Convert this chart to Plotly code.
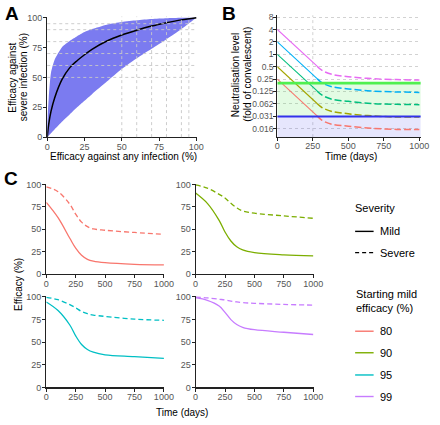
import math
import plotly.graph_objects as go

W, H = 440, 425
def fx(p): return p / W
def fy(p): return 1 - p / H

FONT = "Liberation Sans, Arial, Helvetica, sans-serif"
TICKC = "#555555"

# ---------------- Panel A data ----------------
A_any = [0, 1, 2.5, 5, 10, 15, 20, 25, 30, 40, 50, 60, 70, 80, 90, 100]
A_severe_mid = [0, 11, 21.5, 33, 48.5, 58, 64, 69, 73.5, 80.5, 85.5, 89.5, 93, 95.8, 98.2, 100]
A_severe_upper = [0, 33, 54, 65, 75.5, 80.5, 84.5, 88, 90.5, 94.2, 96.4, 97.9, 99, 99.6, 100, 100]
A_severe_lower = [0, 1.3, 3.2, 6.5, 13, 19, 25, 30.5, 36, 46.5, 57, 66, 74, 82, 90.5, 100]
A_ref_levels = [50, 60, 70, 80, 90, 95]
A_ticks = [0, 25, 50, 75, 100]

# ---------------- Panel B data ----------------
B_solid_days = [0, 280]
B_tail_days = [280, 315, 385, 500, 660, 840, 1000]
B_pink_solid = [4, 0.514]
B_pink_tail = [0.514, 0.406, 0.325, 0.287, 0.257, 0.243, 0.238]
B_blue_solid = [2, 0.257]
B_blue_tail = [0.257, 0.203, 0.163, 0.144, 0.129, 0.122, 0.119]
B_green_solid = [1, 0.129]
B_green_tail = [0.129, 0.102, 0.081, 0.072, 0.064, 0.061, 0.060]
B_olive_solid = [0.5, 0.064]
B_olive_tail = [0.064, 0.051, 0.041, 0.036, 0.032, 0.030, 0.030]
B_red_solid = [0.25, 0.032]
B_red_tail = [0.032, 0.025, 0.020, 0.018, 0.016, 0.015, 0.015]
B_threshold_any = 0.2
B_threshold_severe = 0.031
B_xspan = [0, 1010]
B_floor = 0.005
B_tickvals = [8, 4, 2, 1, 0.5, 0.25, 0.125, 0.0625, 0.03125, 0.015625]
B_ticktext = ["8", "4", "2", "1", "0.5", "0.25", "0.125", "0.062", "0.031", "0.016"]
B_xticks = [0, 250, 500, 750, 1000]
B_ref_day = 250

# ---------------- Panel C data ----------------
C_days = [0, 100, 200, 250, 300, 350, 400, 500, 750, 1000]
C_mild_80 = [80, 63, 40, 29, 21, 16.5, 14.5, 12.8, 11, 10.3]
C_severe_80 = [97.5, 92, 78, 67, 58, 53, 50.5, 49, 46.5, 44.5]
C_mild_90 = [90.5, 79, 60, 47, 37, 30.5, 27, 24, 21.5, 20.3]
C_severe_90 = [99.5, 96, 89, 85, 79, 74, 70.5, 68, 65, 62.3]
C_mild_95 = [94.5, 85, 69, 57, 47.5, 42, 39, 36, 34, 32]
C_severe_95 = [99.5, 97, 91.5, 88, 84, 81.5, 80, 78.5, 75.5, 74.2]
C_mild_99 = [99.2, 96.2, 90, 83, 75, 69.5, 66.5, 63.8, 61, 58.5]
C_severe_99 = [99.9, 99, 97.5, 96.8, 95.5, 94.5, 93.8, 93, 91.8, 91]
C_labels = ["80", "90", "95", "99"]
C_colors = ["#F8766D", "#7CAE00", "#00BFC4", "#C77CFF"]

fig = go.Figure()

# ---- Panel A ----
fig.add_trace(go.Scatter(
    x=A_any + A_any[::-1], y=A_severe_lower + A_severe_upper[::-1],
    fill="toself", fillcolor="rgb(123,123,240)", mode="lines",
    line=dict(width=0, color="rgb(123,123,240)", shape="spline", smoothing=0.6),
    xaxis="x", yaxis="y", hoverinfo="skip", showlegend=False))
fig.add_trace(go.Scatter(
    x=A_any, y=A_severe_mid, mode="lines",
    line=dict(color="black", width=1.5, shape="spline", smoothing=1),
    xaxis="x", yaxis="y", showlegend=False))

# ---- Panel B ----
fig.add_trace(go.Scatter(
    x=[B_xspan[0], B_xspan[1], B_xspan[1], B_xspan[0]],
    y=[B_floor, B_floor, B_threshold_severe, B_threshold_severe],
    fill="toself", fillcolor="rgba(90,90,240,0.15)", mode="lines", line=dict(width=0),
    xaxis="x2", yaxis="y2", hoverinfo="skip", showlegend=False))
fig.add_trace(go.Scatter(
    x=[B_xspan[0], B_xspan[1], B_xspan[1], B_xspan[0]],
    y=[B_threshold_severe, B_threshold_severe, B_threshold_any, B_threshold_any],
    fill="toself", fillcolor="rgba(60,230,60,0.14)", mode="lines", line=dict(width=0),
    xaxis="x2", yaxis="y2", hoverinfo="skip", showlegend=False))

B_series = [
    (B_pink_solid, B_pink_tail, "#E76BF3"),
    (B_blue_solid, B_blue_tail, "#00B0F6"),
    (B_green_solid, B_green_tail, "#00BF7D"),
    (B_olive_solid, B_olive_tail, "#A3A500"),
    (B_red_solid, B_red_tail, "#F8766D"),
]
for solid, tail, col in B_series:
    fig.add_trace(go.Scatter(x=B_solid_days, y=solid, mode="lines",
                             line=dict(color=col, width=1.1),
                             xaxis="x2", yaxis="y2", showlegend=False))
    fig.add_trace(go.Scatter(x=B_tail_days, y=tail, mode="lines",
                             line=dict(color=col, width=1.5, dash="7px,3px", shape="spline"),
                             xaxis="x2", yaxis="y2", showlegend=False))

fig.add_trace(go.Scatter(x=B_xspan, y=[B_threshold_any] * 2, mode="lines",
                         line=dict(color="rgb(80,240,80)", width=2.6),
                         xaxis="x2", yaxis="y2", showlegend=False))
fig.add_trace(go.Scatter(x=B_xspan, y=[B_threshold_severe] * 2, mode="lines",
                         line=dict(color="rgb(50,50,235)", width=2),
                         xaxis="x2", yaxis="y2", showlegend=False))

# ---- Panel C ----
C_mild = [C_mild_80, C_mild_90, C_mild_95, C_mild_99]
C_severe = [C_severe_80, C_severe_90, C_severe_95, C_severe_99]
C_axes = [("x3", "y3"), ("x4", "y4"), ("x5", "y5"), ("x6", "y6")]
for mild, sev, col, (xa, ya) in zip(C_mild, C_severe, C_colors, C_axes):
    fig.add_trace(go.Scatter(x=C_days, y=sev, mode="lines",
                             line=dict(color=col, width=1.3, dash="5px,3px", shape="spline"),
                             xaxis=xa, yaxis=ya, showlegend=False))
    fig.add_trace(go.Scatter(x=C_days, y=mild, mode="lines",
                             line=dict(color=col, width=1.3, shape="spline"),
                             xaxis=xa, yaxis=ya, showlegend=False))

# ---- axes ----
def axstyle(size=9, standoff=0, **kw):
    d = dict(showline=True, linecolor="#222222", linewidth=1.1, ticks="outside",
             ticklen=3, tickwidth=1, tickcolor="#222222", showgrid=False, zeroline=False,
             tickfont=dict(family=FONT, size=size, color=TICKC), fixedrange=True,
             ticklabelstandoff=standoff)
    d.update(kw)
    return d

XS = -2
YS = -1
C_xt = [0, 250, 500, 750, 1000]
C_yt = [0, 25, 50, 75, 100]
layout = dict(
    width=W, height=H, autosize=False,
    margin=dict(l=0, r=0, t=0, b=0, pad=0),
    paper_bgcolor="white", plot_bgcolor="white",
    font=dict(family=FONT, color="black"),
    showlegend=False,
    xaxis=axstyle(standoff=XS, domain=[fx(45.5), fx(199.5)], range=[0, 100.5], anchor="y", tickvals=A_ticks),
    yaxis=axstyle(standoff=YS, domain=[fy(136), fy(12.8)], range=[0, 101], anchor="x", tickvals=A_ticks),
    xaxis2=axstyle(standoff=-3, domain=[fx(282), fx(429.5)], range=[0, 1010], anchor="y2", tickvals=B_xticks),
    yaxis2=axstyle(size=8.5, standoff=-2, domain=[fy(136), fy(11.5)], type="log",
                   range=[-6.68 * math.log10(2), 3.15 * math.log10(2)], anchor="x2",
                   tickvals=B_tickvals, ticktext=B_ticktext,
                   showgrid=True, gridcolor="#d2d2d2", griddash="dot", gridwidth=1),
    xaxis3=axstyle(standoff=XS, domain=[fx(44.5), fx(166)], range=[0, 1005], anchor="y3", tickvals=C_xt),
    yaxis3=axstyle(standoff=YS, domain=[fy(276), fy(183.5)], range=[0, 101], anchor="x3", tickvals=C_yt),
    xaxis4=axstyle(standoff=XS, domain=[fx(198), fx(319.5)], range=[0, 1005], anchor="y4", tickvals=C_xt),
    yaxis4=axstyle(standoff=YS, domain=[fy(276), fy(183.5)], range=[0, 101], anchor="x4", tickvals=C_yt),
    xaxis5=axstyle(standoff=XS, domain=[fx(44.5), fx(166)], range=[0, 1005], anchor="y5", tickvals=C_xt),
    yaxis5=axstyle(standoff=YS, domain=[fy(391.7), fy(298.4)], range=[0, 101], anchor="x5", tickvals=C_yt),
    xaxis6=axstyle(standoff=XS, domain=[fx(198), fx(319.5)], range=[0, 1005], anchor="y6", tickvals=C_xt),
    yaxis6=axstyle(standoff=YS, domain=[fy(391.7), fy(298.4)], range=[0, 101], anchor="x6", tickvals=C_yt),
)
fig.update_layout(**layout)

shapes = []
GRID = dict(color="rgba(200,200,200,0.9)", width=1, dash="dot")
for v in A_ref_levels:
    shapes.append(dict(type="line", xref="x", yref="y domain", x0=v, x1=v, y0=0, y1=1,
                       line=GRID, layer="above"))
    shapes.append(dict(type="line", xref="x domain", yref="y", x0=0, x1=1, y0=v, y1=v,
                       line=GRID, layer="above"))
shapes.append(dict(type="line", xref="x2", yref="y2 domain", x0=B_ref_day, x1=B_ref_day,
                   y0=0, y1=1, line=dict(color="#d2d2d2", width=1, dash="dot"), layer="below"))

# legend (manual)
def lline(y, color, dash="solid"):
    shapes.append(dict(type="line", xref="paper", yref="paper", x0=fx(362), x1=fx(381),
                       y0=fy(y), y1=fy(y), line=dict(color=color, width=1.4, dash=dash)))
lline(232.3, "black")
lline(254, "black", "4px,3px")
leg_y = [334.3, 356.3, 379, 401]
for yy, col in zip(leg_y, C_colors):
    lline(yy, col)
fig.update_layout(shapes=shapes)

ann = []
def txt(x, y, s, size=10, angle=0, xanchor="center", bold=False, color="black"):
    ann.append(dict(x=fx(x), y=fy(y), xref="paper", yref="paper", text=("<b>%s</b>" % s) if bold else s,
                    showarrow=False, textangle=angle, xanchor=xanchor, yanchor="middle",
                    font=dict(family=FONT, size=size, color=color)))

txt(9.5, 10, "A", 19, bold=True)
txt(232, 9.5, "B", 19, bold=True)
txt(8.5, 178.5, "C", 19, bold=True)

txt(9.5, 75, "Efficacy against", 10, -90)
txt(20.5, 75, "severe infection (%)", 10, -90)
txt(124, 156, "Efficacy against any infection (%)", 10)

txt(239.2, 72, "Neutralisation level", 10, -90)
txt(251.2, 72, "(fold of convalescent)", 10, -90)
txt(358, 155.5, "Time (days)", 10)

txt(16.5, 287, "Efficacy (%)", 10, -90)
txt(184, 417, "Time (days)", 10)

txt(360, 208.3, "Severity", 11, xanchor="left")
txt(385.5, 232.3, "Mild", 11, xanchor="left")
txt(385.5, 254, "Severe", 11, xanchor="left")
txt(360.5, 296.7, "Starting mild", 11, xanchor="left")
txt(360.5, 311, "efficacy (%)", 11, xanchor="left")
for yy, lab in zip(leg_y, C_labels):
    txt(385.5, yy, lab, 11, xanchor="left")

fig.update_layout(annotations=ann)
fig.write_html("out.html", config={"displayModeBar": False, "staticPlot": True},
               post_script="document.body.style.margin='0';document.body.style.padding='0';document.body.style.overflow='hidden';")
